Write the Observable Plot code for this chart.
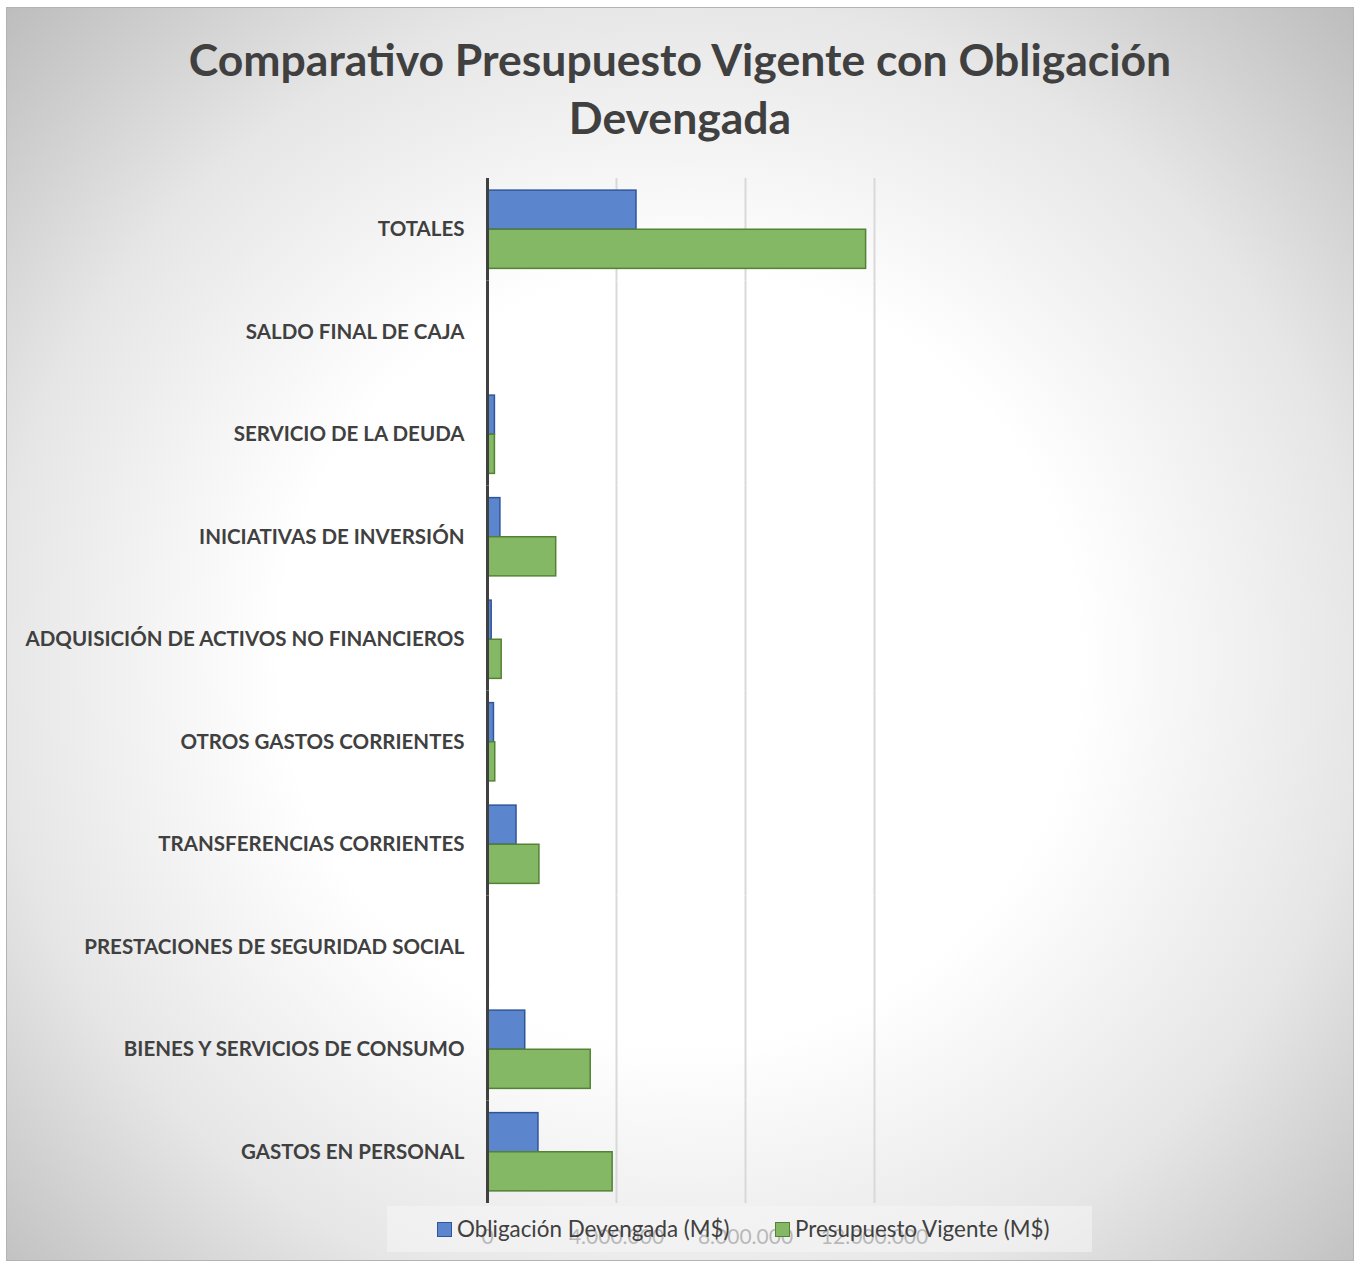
<!DOCTYPE html>
<html>
<head>
<meta charset="utf-8">
<script src="https://cdn.jsdelivr.net/npm/d3@7"></script>
<script src="https://cdn.jsdelivr.net/npm/@observablehq/plot@0.6"></script>
<style>
  html, body { margin: 0; padding: 0; width: 1360px; height: 1261px; overflow: hidden; background: #ffffff; }
  #frame { position: absolute; left: 6px; top: 7px; width: 1346px; height: 1252px;
    border: 1px solid #b3b3b3;
    background: radial-gradient(ellipse farthest-corner at 50% 52%, #ffffff 0%, #ffffff 42%, #e6e6e6 72%, #bdbdbd 100%); }
  #title { position: absolute; left: 0; top: 30px; width: 1360px; text-align: center;
    font-family: Lato, "Open Sans", sans-serif; font-weight: bold; font-size: 44.5px; line-height: 58px; color: #404040; }
  #chart { position: absolute; left: 0; top: 170px; line-height: 0; }
  #legend { position: absolute; left: 387px; top: 1206px; width: 705px; height: 46px;
    background: rgba(246,246,246,0.55); font-family: Lato, "Open Sans", sans-serif; font-size: 22.4px; color: #404040; }
  .item { position: absolute; top: 9px; white-space: nowrap; }
  .sw { display: inline-block; width: 13px; height: 13px; margin-right: 5px; vertical-align: 0px; }
</style>
</head>
<body>
<div id="frame"></div>
<div id="title">Comparativo Presupuesto Vigente con Obligación<br>Devengada</div>
<div id="chart"></div>
<div id="legend"></div>
<script>
const categories = [
  "TOTALES",
  "SALDO FINAL DE CAJA",
  "SERVICIO DE LA DEUDA",
  "INICIATIVAS DE INVERSIÓN",
  "ADQUISICIÓN DE ACTIVOS NO FINANCIEROS",
  "OTROS GASTOS CORRIENTES",
  "TRANSFERENCIAS CORRIENTES",
  "PRESTACIONES DE SEGURIDAD SOCIAL",
  "BIENES Y SERVICIOS DE CONSUMO",
  "GASTOS EN PERSONAL"
];
const seriesNames = ["Obligación Devengada (M$)", "Presupuesto Vigente (M$)"];
const obligacion = [4620000, 0, 230000, 400000, 130000, 200000, 900000, 30000, 1170000, 1580000];
const presupuesto = [11740000, 0, 230000, 2130000, 440000, 240000, 1610000, 40000, 3200000, 3880000];
const xTicks = [0, 4000000, 8000000, 12000000];
const fills = ["#5b86cd", "#84b864"];
const strokes = ["#2f559b", "#548235"];

const data = [];
categories.forEach((c, i) => {
  data.push({cat: c, serie: seriesNames[0], value: obligacion[i]});
  data.push({cat: c, serie: seriesNames[1], value: presupuesto[i]});
});

const loc = d3.formatLocale({decimal: ",", thousands: ".", grouping: [3], currency: ["$", ""]});
const fmt = loc.format(",");

const chart = Plot.plot({
  width: 1360,
  height: 1091,
  marginLeft: 487,
  marginRight: 486,
  marginTop: 8,
  marginBottom: 58,
  style: {background: "transparent", fontFamily: "Lato, 'Open Sans', sans-serif", overflow: "visible"},
  x: {domain: [0, 12000000], axis: null},
  y: {domain: seriesNames, axis: null, paddingInner: 0, paddingOuter: 0.31, round: false},
  fy: {domain: categories, padding: 0, axis: null, round: false},
  color: {domain: seriesNames, range: fills},
  marks: [
    Plot.gridX(xTicks.slice(1), {stroke: "#d9d9d9", strokeOpacity: 1, strokeWidth: 2}),
    Plot.barX(data, {fy: "cat", y: "serie", x: "value", fill: "serie",
      stroke: d => strokes[seriesNames.indexOf(d.serie)], strokeWidth: 1.5}),
    Plot.ruleX([0], {stroke: "#404040", strokeWidth: 3}),
    Plot.axisFy({anchor: "left", tickSize: 0, tickPadding: 23, fontSize: 20.5, fontWeight: "bold", fill: "#404040", label: null}),
    Plot.axisX(xTicks, {anchor: "bottom", tickSize: 0, tickPadding: 26, fontSize: 21, fill: "#6e6e6e", tickFormat: fmt, label: null})
  ]
});
document.getElementById("chart").appendChild(chart);

const legend = document.getElementById("legend");
const lx = [50, 388];
seriesNames.forEach((s, i) => {
  const it = document.createElement("div");
  it.className = "item";
  it.style.left = lx[i] + "px";
  const sw = document.createElement("span");
  sw.className = "sw";
  sw.style.background = fills[i];
  sw.style.border = "1px solid " + strokes[i];
  it.appendChild(sw);
  it.appendChild(document.createTextNode(s));
  legend.appendChild(it);
});
</script>
</body>
</html>
